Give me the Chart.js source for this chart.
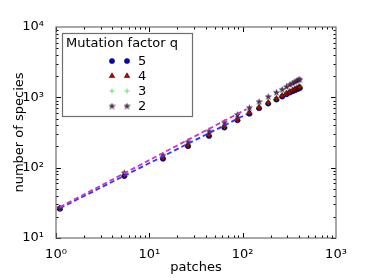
<!DOCTYPE html>
<html>
<head>
<meta charset="utf-8">
<script src="https://cdn.jsdelivr.net/npm/chart.js@4/dist/chart.umd.min.js"></script>
<style>
  body { margin: 0; background: #fff; }
  canvas { display: block; }
</style>
</head>
<body>
<canvas id="grafico" width="374" height="280"></canvas>
<script>
const patches = [1.1, 5.4, 14, 26, 43.6, 63.7, 88, 118, 150, 188, 230, 265, 295, 320, 344, 363, 382, 398, 410];
const especiesQ5 = [26, 76, 134, 202, 283, 372, 473, 585, 700, 816, 930, 1025, 1105, 1168, 1220, 1262, 1303, 1330, 1362];
const especiesQ4 = [26.5, 79, 139, 209, 292, 383, 487, 603, 721, 841, 958, 1055, 1140, 1203, 1258, 1300, 1343, 1371, 1403];
const especiesQ3 = [26.5, 80, 141, 212, 296, 388, 494, 612, 732, 853, 972, 1070, 1156, 1220, 1276, 1318, 1362, 1390, 1423];
const especiesQ2 = [27, 85, 151, 234, 333, 445, 572, 713, 870, 1024, 1177, 1300, 1417, 1520, 1590, 1660, 1715, 1780, 1810];

// rectas de ajuste (extremos)
const ajusteX = [1.1, 110];
const ajusteBajo = [26.5, 575];
const ajusteAlto = [27.5, 680];

const ticksX = [1, 10, 100, 1000];
const ticksY = [10, 100, 1000, 10000];
const superindices = { 0: '⁰', 1: '¹', 2: '²', 3: '³', 4: '⁴' };

const fuente = "'DejaVu Sans', sans-serif";

const estrella = (() => {
    const c = document.createElement('canvas');
    c.width = 7; c.height = 7;
    const ctx = c.getContext('2d');
    ctx.beginPath();
    for (let i = 0; i < 10; i++) {
        const r = i % 2 === 0 ? 3.1 : 1.3;
        const a = -Math.PI / 2 + i * Math.PI / 5;
        ctx.lineTo(3.5 + r * Math.cos(a), 3.8 + r * Math.sin(a));
    }
    ctx.closePath();
    ctx.fillStyle = '#6e2870';
    ctx.fill();
    ctx.strokeStyle = '#000';
    ctx.lineWidth = 0.4;
    ctx.stroke();
    return c;
})();

const puntos = (ys) => patches.map((x, i) => ({ x: x, y: ys[i] }));
const recta = (ys) => ajusteX.map((x, i) => ({ x: x, y: ys[i] }));

const series = [
    { label: '5', data: puntos(especiesQ5), pointStyle: 'circle', pointRadius: 2.6, backgroundColor: '#0000e0', borderColor: '#000', borderWidth: 0.5, showLine: false, order: 5 },
    { label: '4', data: puntos(especiesQ4), pointStyle: 'triangle', pointRadius: 3.2, backgroundColor: '#c00000', borderColor: '#000', borderWidth: 0.5, showLine: false, order: 3 },
    { label: '3', data: puntos(especiesQ3), pointStyle: 'cross', pointRadius: 2.6, backgroundColor: '#66dd66', borderColor: '#66dd66', borderWidth: 1, showLine: false, order: 4 },
    { label: '2', data: puntos(especiesQ2), pointStyle: estrella, pointRadius: 3.5, backgroundColor: '#6e2870', borderColor: '#000', borderWidth: 0.5, showLine: false, order: 2 }
];

const lineas = [
    { label: 'ajuste bajo', data: recta(ajusteBajo), showLine: true, pointRadius: 0, borderColor: '#3333ee', borderWidth: 1.8, borderDash: [5, 3], order: 1 },
    { label: 'ajuste alto', data: recta(ajusteAlto), showLine: true, pointRadius: 0, borderColor: '#cc33cc', borderWidth: 1.8, borderDash: [5, 3], order: 0 }
];

const etiquetaLog = (v) => {
    const e = Math.round(Math.log10(v));
    return '10' + superindices[e];
};

const marcoYTicks = {
    id: 'marcoYTicks',
    afterDatasetsDraw(chart) {
        const { ctx, chartArea: a, scales } = chart;
        ctx.save();
        ctx.strokeStyle = '#000';
        ctx.lineWidth = 1;
        const marca = (x1, y1, x2, y2) => {
            ctx.beginPath(); ctx.moveTo(x1, y1); ctx.lineTo(x2, y2); ctx.stroke();
        };
        for (let k = 0; k < 3; k++) {
            for (let m = 1; m < 10; m++) {
                const v = m * Math.pow(10, k);
                const px = Math.round(scales.x.getPixelForValue(v)) + 0.5;
                const l = m === 1 ? 5 : 2.5;
                marca(px, a.bottom, px, a.bottom - l);
                marca(px, a.top, px, a.top + l);
                const vy = m * Math.pow(10, k + 1);
                const py = Math.round(scales.y.getPixelForValue(vy)) + 0.5;
                marca(a.left, py, a.left + l, py);
                marca(a.right, py, a.right - l, py);
            }
        }
        ctx.strokeStyle = '#6e6e6e';
        ctx.lineWidth = 1.2;
        ctx.strokeRect(a.left, a.top, a.right - a.left, a.bottom - a.top);

        // leyenda
        const lx = 62, ly = 33, lw = 130, lh = 83;
        ctx.fillStyle = '#fff';
        ctx.fillRect(lx, ly, lw, lh);
        ctx.strokeStyle = '#6e6e6e';
        ctx.lineWidth = 1.2;
        ctx.strokeRect(lx + 0.5, ly + 0.5, lw, lh);
        ctx.fillStyle = '#000';
        ctx.font = '13px ' + fuente;
        ctx.textBaseline = 'middle';
        ctx.textAlign = 'left';
        ctx.fillText('Mutation factor q', 66, 44);
        series.forEach((s, i) => {
            const y = 61 + i * 15;
            ctx.fillStyle = s.backgroundColor;
            ctx.strokeStyle = s.borderColor;
            ctx.lineWidth = s.borderWidth;
            [112, 127].forEach((x) => {
                Chart.helpers.drawPoint(ctx, { pointStyle: s.pointStyle, radius: s.pointRadius, rotation: 0, borderWidth: s.borderWidth }, x, y);
            });
            ctx.fillStyle = '#000';
            ctx.fillText(s.label, 138, y + 1);
        });
        ctx.restore();
    }
};

const fijarEje = (ancho, alto) => (scale) => {
    if (ancho) scale.width = ancho;
    if (alto) scale.height = alto;
    scale.paddingLeft = 0; scale.paddingRight = 0;
    scale.paddingTop = 0; scale.paddingBottom = 0;
};

new Chart(document.getElementById('grafico'), {
    type: 'scatter',
    data: { datasets: [...series, ...lineas] },
    plugins: [marcoYTicks],
    options: {
        responsive: false,
        animation: false,
        layout: { padding: { top: 27, right: 38, left: 0, bottom: 0 } },
        plugins: { legend: { display: false }, tooltip: { enabled: false } },
        scales: {
            x: {
                type: 'logarithmic',
                min: 1, max: 1000,
                afterBuildTicks: (s) => { s.ticks = ticksX.map((v) => ({ value: v, major: true })); },
                afterFit: fijarEje(null, 42),
                grid: { display: false },
                border: { display: false },
                ticks: { callback: etiquetaLog, color: '#000', font: { family: fuente, size: 13 }, padding: 1, maxRotation: 0, autoSkip: false },
                title: { display: true, text: 'patches', color: '#000', font: { family: fuente, size: 13 }, padding: { top: 0, bottom: 5 } }
            },
            y: {
                type: 'logarithmic',
                min: 10, max: 10000,
                afterBuildTicks: (s) => { s.ticks = ticksY.map((v) => ({ value: v, major: true })); },
                afterFit: fijarEje(56, null),
                grid: { display: false },
                border: { display: false },
                ticks: { callback: etiquetaLog, color: '#000', font: { family: fuente, size: 13 }, padding: 4, autoSkip: false },
                title: { display: true, text: 'number of species', color: '#000', font: { family: fuente, size: 13 }, padding: { top: 12, bottom: 0 } }
            }
        }
    }
});
</script>
</body>
</html>
